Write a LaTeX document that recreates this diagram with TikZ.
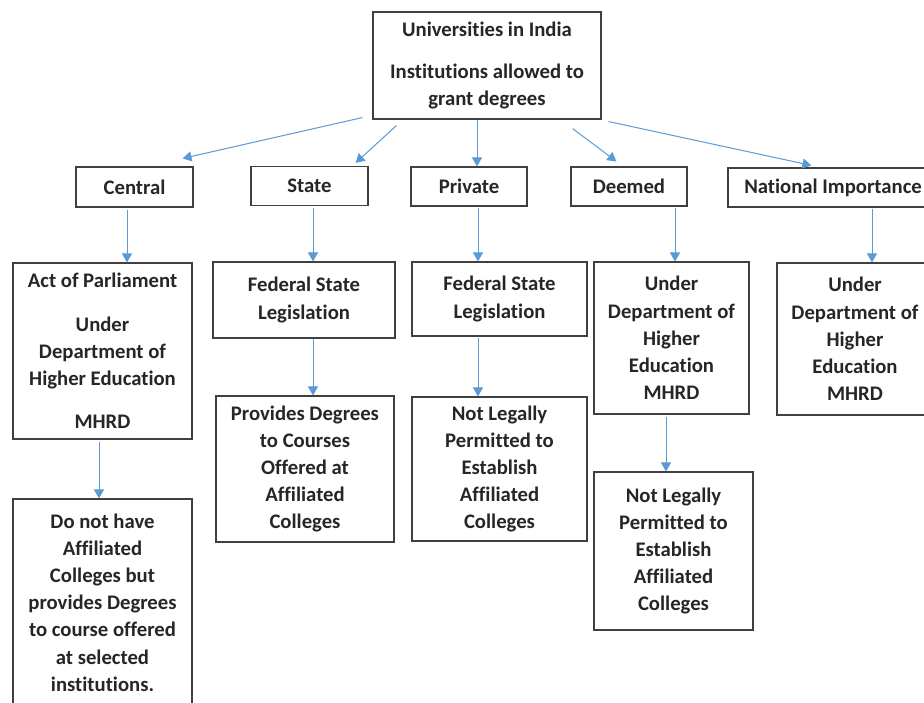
\documentclass[tikz,border=0pt]{standalone}
\usepackage{fontspec}
\setmainfont{Carlito}[Ligatures=NoCommon]
\usetikzlibrary{arrows.meta,calc}
\definecolor{boxgray}{HTML}{404040}
\definecolor{txtgray}{HTML}{262626}
\definecolor{arrblue}{HTML}{5B9BD5}
\begin{document}
\begin{tikzpicture}[x=1pt,y=-1pt,
  box/.style={draw=boxgray,line width=1.1pt,inner sep=0pt,align=center,text=txtgray,
    font=\fontsize{20.7}{27.2}\selectfont\bfseries},
  arr/.style={draw=arrblue,line width=1pt,-{Triangle[length=9pt,width=10pt]}}]
\useasboundingbox (0,0) rectangle (924,703);
\clip (0,0) rectangle (924,703);
\fill[white] (0,0) rectangle (924,703);
% level 0
\node[box,minimum width=228pt,minimum height=107pt] (top) at (487,65.5)
  {Universities in India\\[15pt]Institutions allowed to\\grant degrees};
% level 1
\node[box,minimum width=117pt,minimum height=40pt] (central) at (134.5,187) {Central};
\node[box,minimum width=117pt,minimum height=39pt] (state) at (309.5,186) {State};
\node[box,minimum width=116pt,minimum height=39pt] (private) at (469,186.5) {Private};
\node[box,minimum width=116pt,minimum height=39pt] (deemed) at (629,186.5) {Deemed};
\node[box,minimum width=210pt,minimum height=39pt] (national) at (833,187.5) {National Importance};
% level 2
\node[box,minimum width=179pt,minimum height=176pt] (act) at (102.5,351)
  {Act of Parliament\\[16pt]Under\\Department of\\Higher Education\\[16pt]MHRD};
\node[box,minimum width=182pt,minimum height=76pt] (statefed) at (304,300)
  {Federal State\\Legislation};
\node[box,minimum width=175pt,minimum height=74pt] (privfed) at (499.5,299)
  {Federal State\\Legislation};
\node[box,minimum width=155pt,minimum height=152pt] (deemund) at (671.5,338)
  {Under\\Department of\\Higher\\Education\\MHRD};
\node[box,minimum width=156pt,minimum height=152pt] (natund) at (855,339)
  {Under\\Department of\\Higher\\Education\\MHRD};
% level 3
\node[box,minimum width=178pt,minimum height=146pt] (provides) at (305,469)
  {Provides Degrees\\to Courses\\Offered at\\Affiliated\\Colleges};
\node[box,minimum width=175pt,minimum height=144pt] (privnot) at (499.5,469)
  {Not Legally\\Permitted to\\Establish\\Affiliated\\Colleges};
\node[box,minimum width=159pt,minimum height=158pt] (deemnot) at (673.5,551)
  {Not Legally\\Permitted to\\Establish\\Affiliated\\Colleges};
\node[box,minimum width=179pt,minimum height=207pt] (donot) at (102.5,602.5)
  {Do not have\\Affiliated\\Colleges but\\provides Degrees\\to course offered\\at selected\\institutions.};
% connectors from top
\draw[arr] ($(top.south west)+(-10,-2)$) -- ($(central.north east)+(-11,-8)$);
\draw[arr] ($(top.south west)+(24,6)$) -- ($(state.north east)+(-13,-3)$);
\draw[arr] ([xshift=-10pt]top.south) -- ([xshift=-10pt]top.south |- private.north);
\draw[arr] ($(top.south east)+(-29,9)$) -- ($(deemed.north west)+(46,-5)$);
\draw[arr] ($(top.south east)+(7,2)$) -- ($(national.north west)+(84,-2)$);
% vertical connectors
\draw[arr] ([xshift=-7.5pt,yshift=-2pt]central.south) -- ([xshift=-7.5pt]central.south |- act.north);
\draw[arr] ([xshift=3.5pt,yshift=-2pt]state.south) -- ([xshift=3.5pt]state.south |- statefed.north);
\draw[arr] ([xshift=9pt]statefed.south) -- ([xshift=9pt]statefed.south |- provides.north);
\draw[arr] ([xshift=9pt,yshift=-1pt]private.south) -- ([xshift=9pt]private.south |- privfed.north);
\draw[arr] ([xshift=-21.5pt,yshift=-1pt]privfed.south) -- ([xshift=-21.5pt]privfed.south |- privnot.north);
\draw[arr] ([xshift=46pt,yshift=-1pt]deemed.south) -- ([xshift=46pt]deemed.south |- deemund.north);
\draw[arr] ([xshift=-5.5pt,yshift=-2pt]deemund.south) -- ([xshift=-5.5pt]deemund.south |- deemnot.north);
\draw[arr] ([xshift=39pt,yshift=-1pt]national.south) -- ([xshift=39pt]national.south |- natund.north);
\draw[arr] ([xshift=-3.5pt,yshift=-2pt]act.south) -- ([xshift=-3.5pt]act.south |- donot.north);
\end{tikzpicture}
\end{document}
